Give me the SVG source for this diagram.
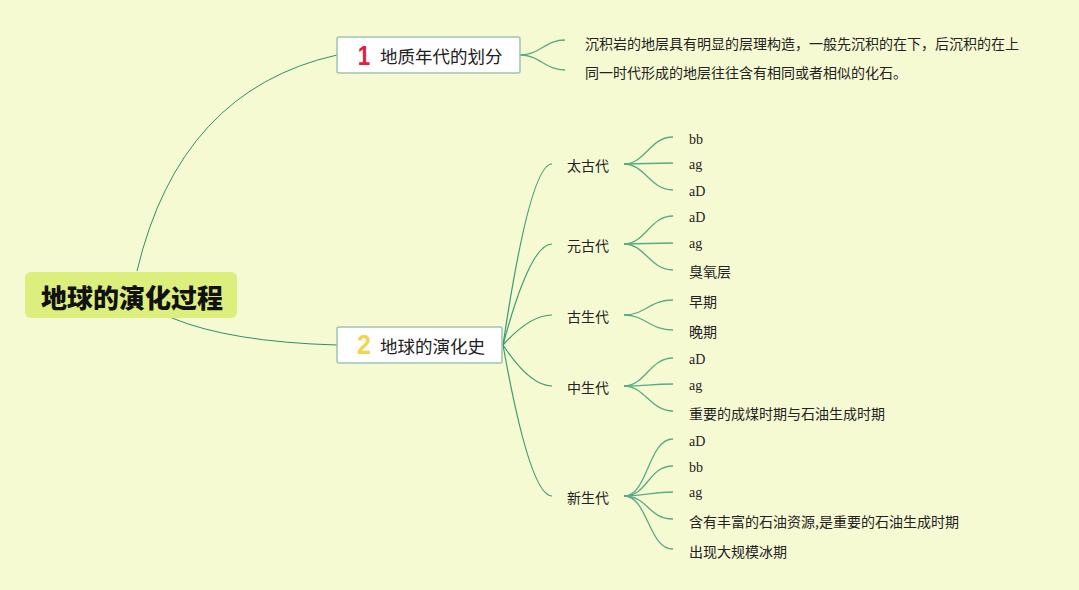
<svg xmlns="http://www.w3.org/2000/svg" width="1079" height="590" viewBox="0 0 1079 590">
<style>
.bg{fill:#f6fad2}
.root{fill:#dcef7c}
.topic{fill:#ffffff;stroke:#9fc4b2;stroke-width:1.5}
.rt{font-family:"Noto Sans CJK SC","Noto Sans",sans-serif;font-size:26px;font-weight:900;fill:#111}
.tt{font-family:"Noto Sans CJK SC","Noto Sans",sans-serif;font-size:17.5px;fill:#222}
.ct{font-family:"Noto Sans CJK SC","Noto Sans",sans-serif;font-size:14px;fill:#222}
.lt{font-family:"Noto Sans CJK SC","Noto Sans",sans-serif;font-size:14px;fill:#222}
.lat{font-family:"Liberation Serif","Noto Sans CJK SC",serif;font-size:14px;fill:#222}
.badge{font-family:"Liberation Sans",sans-serif;font-size:28px;font-weight:bold}
.c1{fill:none;stroke:#2f8f6a;stroke-width:1}
.c2{fill:none;stroke:#3a9a72;stroke-width:1.2}
.c3{fill:none;stroke:#5aaa85;stroke-width:1.3}
text{dominant-baseline:central}
</style>
<rect class="bg" x="0" y="0" width="1079" height="590"/>
<g id="connectors">
<path class="c1" d="M137,271 Q180,90 337,55"/>
<path class="c1" d="M172,318 Q230,342 337,345"/>
<path class="c3" d="M520,55 C540,55 545,40 565,40"/>
<path class="c3" d="M520,55 C540,55 545,70 565,70"/>
<path class="c2" d="M503,345 Q530,164 552,164"/>
<path class="c2" d="M503,345 Q530,244 552,244"/>
<path class="c2" d="M503,345 Q530,315 552,315"/>
<path class="c2" d="M503,345 Q530,386 552,386"/>
<path class="c2" d="M503,345 Q530,496 552,496"/>
<path class="c3" d="M624,164 C645,164 650,137 673,137"/>
<path class="c3" d="M624,164 C645,164 650,163 673,163"/>
<path class="c3" d="M624,164 C645,164 650,190 673,190"/>
<path class="c3" d="M624,244 C645,244 650,216 673,216"/>
<path class="c3" d="M624,244 C645,244 650,243 673,243"/>
<path class="c3" d="M624,244 C645,244 650,270 673,270"/>
<path class="c3" d="M624,315 C645,315 650,300 673,300"/>
<path class="c3" d="M624,315 C645,315 650,330 673,330"/>
<path class="c3" d="M624,386 C645,386 650,358 673,358"/>
<path class="c3" d="M624,386 C645,386 650,384 673,384"/>
<path class="c3" d="M624,386 C645,386 650,411 673,411"/>
<path class="c3" d="M624,496 C648,496 648,439 673,439"/>
<path class="c3" d="M624,496 C648,496 648,466 673,466"/>
<path class="c3" d="M624,496 C648,496 650,492 673,492"/>
<path class="c3" d="M624,496 C648,496 648,519 673,519"/>
<path class="c3" d="M624,496 C648,496 648,549 673,549"/>
</g>
<g id="root">
<rect class="root" x="25" y="272" width="212" height="46" rx="6"/>
<text class="rt" x="132" y="296" text-anchor="middle">地球的演化过程</text>
</g>
<g id="topic1">
<rect class="topic" x="337" y="37" width="183" height="36" rx="2"/>
<text class="badge" x="0" y="0" text-anchor="middle" fill="#e0203c" transform="translate(364,55) scale(0.8,1)">1</text>
<text class="tt" x="380" y="55">地质年代的划分</text>
</g>
<g id="topic2">
<rect class="topic" x="337" y="327" width="165" height="36" rx="2"/>
<text class="badge" x="0" y="0" text-anchor="middle" fill="#f2d54a" transform="translate(364,345) scale(0.9,1)">2</text>
<text class="tt" x="380" y="345">地球的演化史</text>
</g>
<g id="t1-leaf1"><text class="lt" x="585" y="43">沉积岩的地层具有明显的层理构造，一般先沉积的在下，后沉积的在上</text></g>
<g id="t1-leaf2"><text class="lt" x="585" y="72">同一时代形成的地层往往含有相同或者相似的化石。</text></g>
<g id="c-taigu"><text class="ct" x="567" y="165">太古代</text></g>
<g id="c-yuangu"><text class="ct" x="567" y="245">元古代</text></g>
<g id="c-gusheng"><text class="ct" x="567" y="316">古生代</text></g>
<g id="c-zhongsheng"><text class="ct" x="567" y="387">中生代</text></g>
<g id="c-xinsheng"><text class="ct" x="567" y="497">新生代</text></g>
<g id="l1"><text class="lat" x="689" y="139">bb</text></g>
<g id="l2"><text class="lat" x="689" y="164">ag</text></g>
<g id="l3"><text class="lat" x="689" y="191">aD</text></g>
<g id="l4"><text class="lat" x="689" y="217">aD</text></g>
<g id="l5"><text class="lat" x="689" y="243">ag</text></g>
<g id="l6"><text class="lt" x="689" y="271">臭氧层</text></g>
<g id="l7"><text class="lt" x="689" y="301">早期</text></g>
<g id="l8"><text class="lt" x="689" y="331">晚期</text></g>
<g id="l9"><text class="lat" x="689" y="359">aD</text></g>
<g id="l10"><text class="lat" x="689" y="385">ag</text></g>
<g id="l11"><text class="lt" x="689" y="413">重要的成煤时期与石油生成时期</text></g>
<g id="l12"><text class="lat" x="689" y="441">aD</text></g>
<g id="l13"><text class="lat" x="689" y="467">bb</text></g>
<g id="l14"><text class="lat" x="689" y="492">ag</text></g>
<g id="l15"><text class="lt" x="689" y="521">含有丰富的石油资源,是重要的石油生成时期</text></g>
<g id="l16"><text class="lt" x="689" y="551">出现大规模冰期</text></g>
</svg>
